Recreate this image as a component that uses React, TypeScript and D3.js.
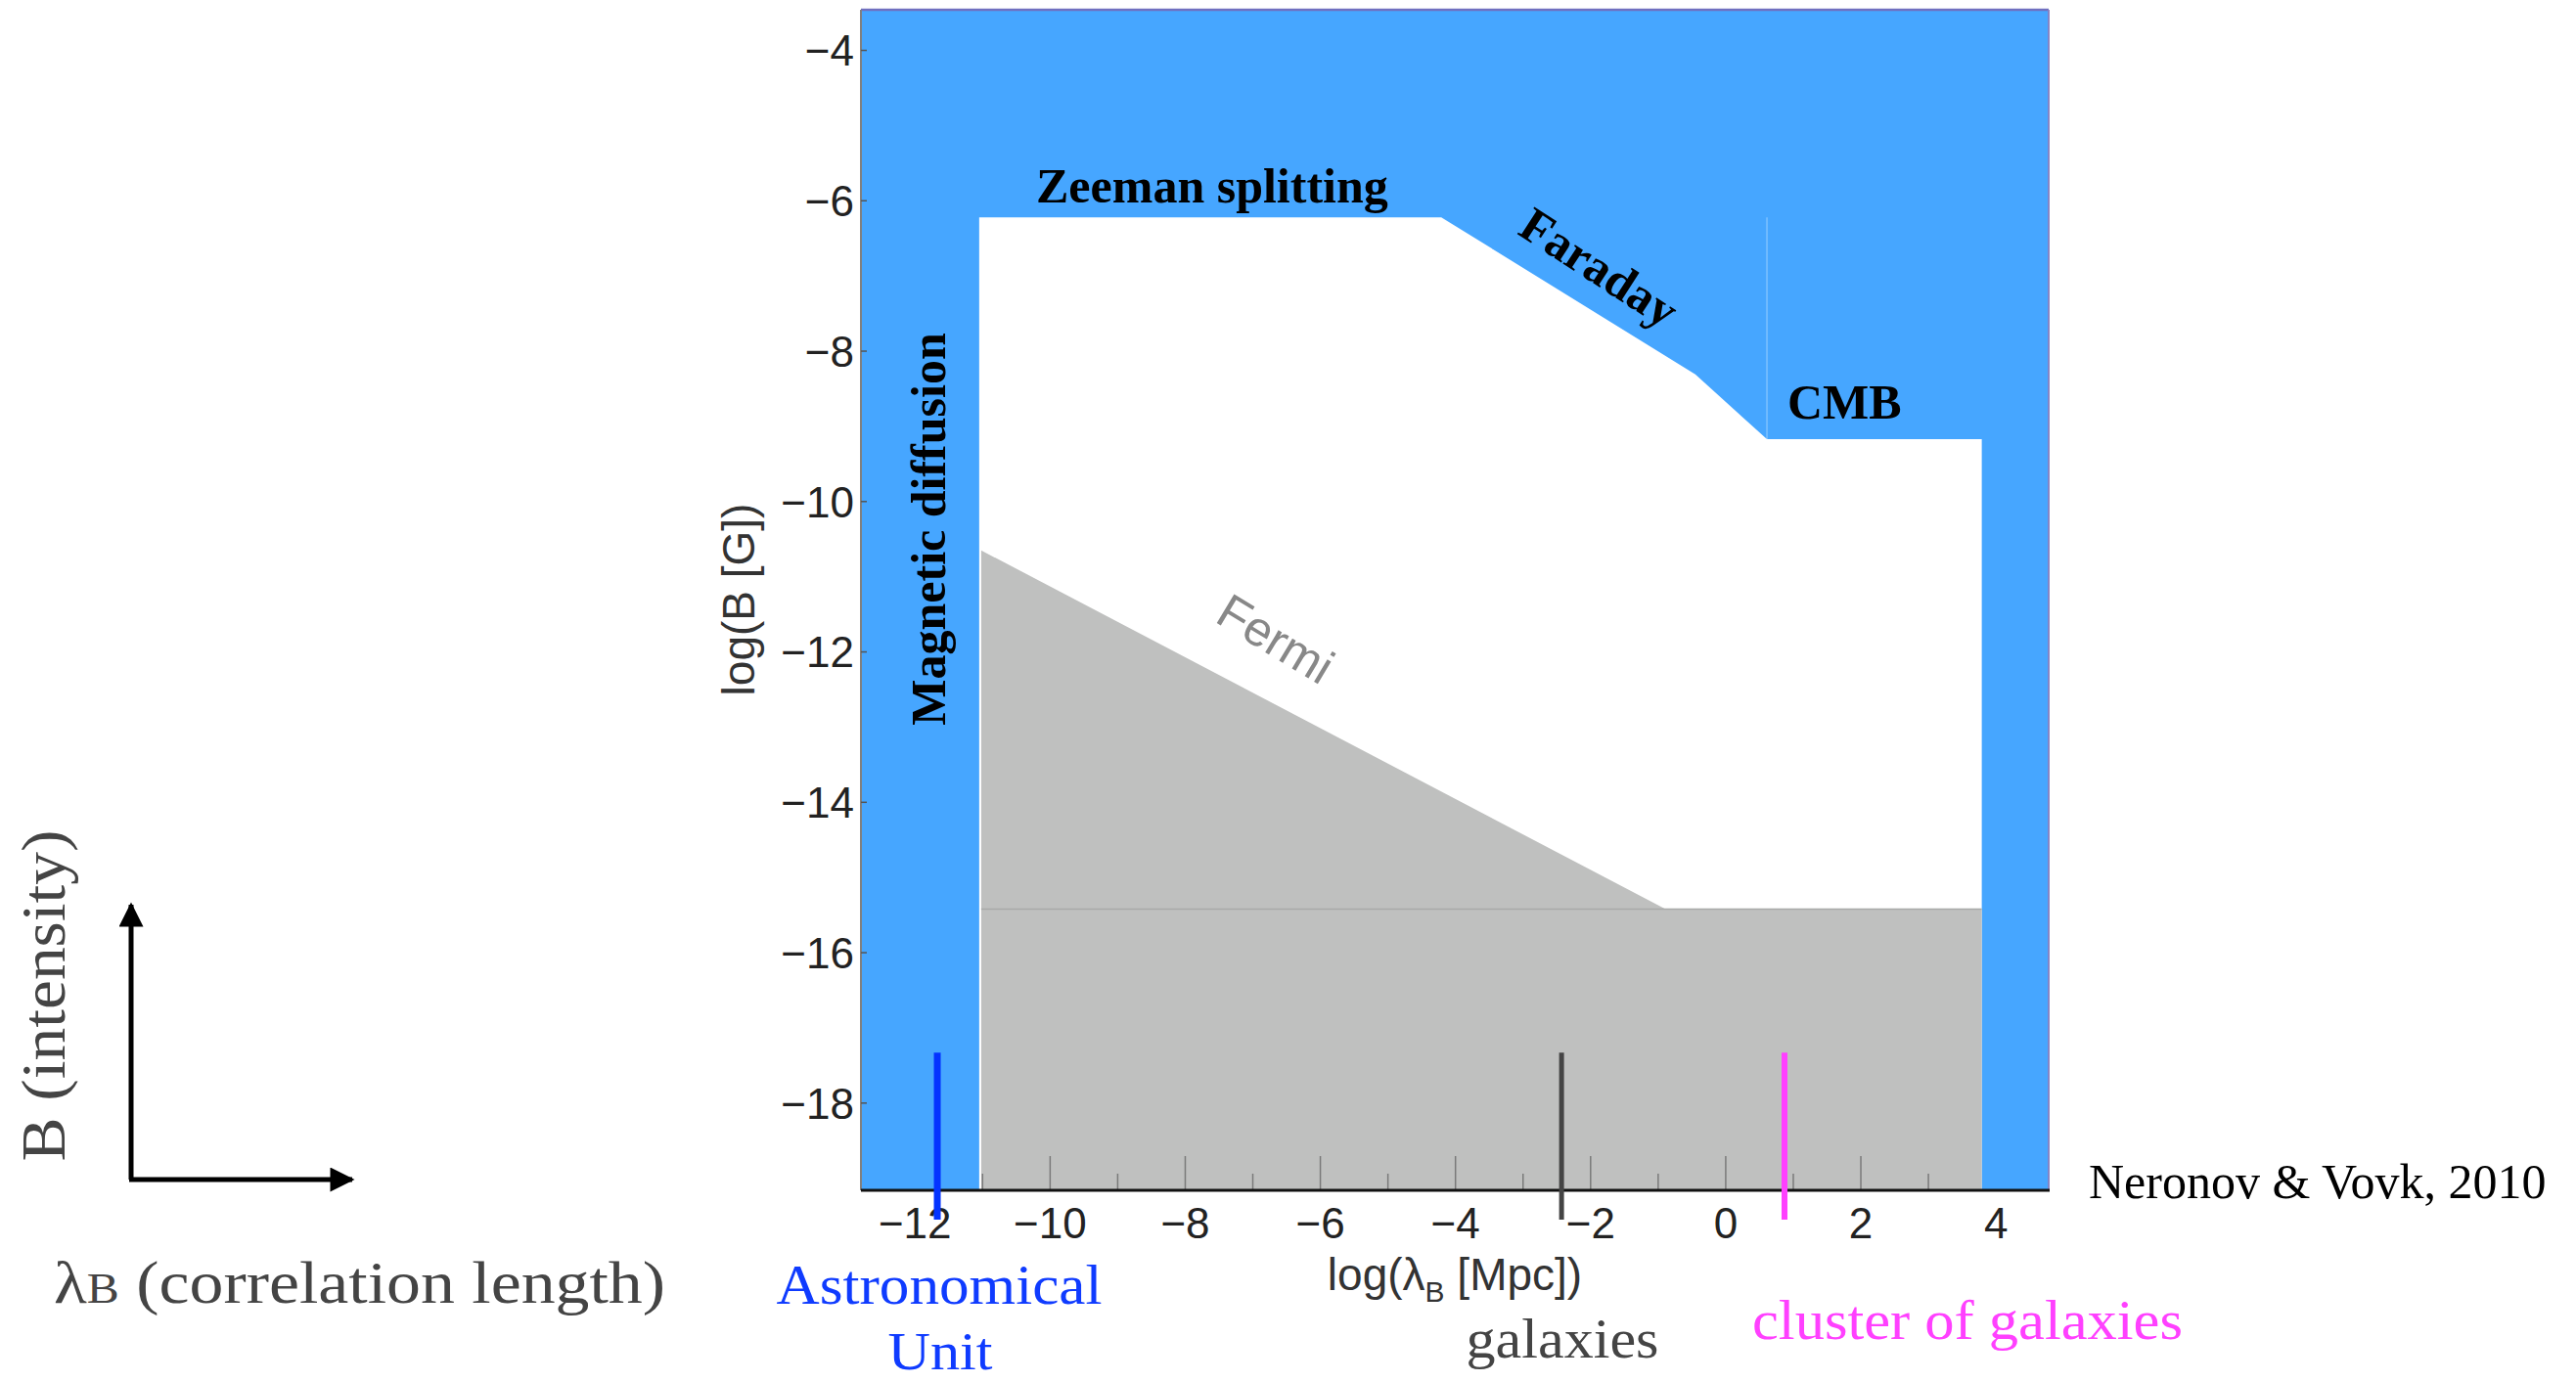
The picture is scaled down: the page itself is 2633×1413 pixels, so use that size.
import React from "react";
import * as d3 from "d3";

const width = 2633;
const height = 1413;

// axis ranges (log lambda [Mpc], log B [G])
const xDomain = [-12.8, 4.78];
const yDomain = [-3.46, -19.16];
const xTicks = [-12, -10, -8, -6, -4, -2, 0, 2, 4];
const yTicks = [-4, -6, -8, -10, -12, -14, -16, -18];
const minorX = [-11, -10, -9, -8, -7, -6, -5, -4, -3, -2, -1, 0, 1, 2, 3];

// allowed (white) region boundary
const allowedX = [-11.05, -11.05, -4.21, -0.45, 0.61, 3.79, 3.79];
const allowedY = [-19.16, -6.22, -6.22, -8.31, -9.17, -9.17, -19.16];

// Fermi exclusion (grey)
const fermiX = [-11.02, -11.02, -0.89, 3.79, 3.79];
const fermiY = [-19.16, -10.65, -15.42, -15.42, -19.16];
const fermiFloor = -15.42;

// scale markers
const markerX = [-11.67, -2.43, 0.87];
const markerColor = ["#0433ff", "#444444", "#ff40ff"];
const markerWidth = [7, 5, 6];
const markerTop = -17.33;
const markerBottom = -19.55;

const x = d3.scaleLinear().domain(xDomain).range([880, 2094]);
const y = d3.scaleLinear().domain(yDomain).range([10, 1217]);

const poly = d3
  .line<[number, number]>()
  .x((d) => x(d[0]))
  .y((d) => y(d[1]));

const allowedPath = poly(allowedX.map((v, i) => [v, allowedY[i]])) + "Z";
const fermiPath = poly(fermiX.map((v, i) => [v, fermiY[i]])) + "Z";

const sans = "'Liberation Sans', Arial, sans-serif";
const serif = "'Liberation Serif', 'Times New Roman', serif";
const blue = "#46a6ff";
const grey = "#bfc0bf";

const fmt = (v: number) => (v < 0 ? "\u2212" + Math.abs(v) : String(v));

export default function App() {
  const [x0, x1] = x.range();
  const [y0, y1] = y.range();
  return (
    <svg
      width={width}
      height={height}
      style={{ position: "absolute", left: 0, top: 0, background: "#fff" }}
    >
      {/* plot background: excluded regions */}
      <rect x={x0} y={y0} width={x1 - x0} height={y1 - y0} fill={blue} />
      <path d={allowedPath} fill="#ffffff" />
      <path d={fermiPath} fill={grey} />
      <line
        x1={x(fermiX[0])}
        x2={x(3.79)}
        y1={y(fermiFloor)}
        y2={y(fermiFloor)}
        stroke="#a8a9a8"
        strokeWidth={1.5}
      />
      {/* faint boundary above CMB */}
      <line
        x1={x(0.61)}
        x2={x(0.61)}
        y1={y(-6.22)}
        y2={y(-9.17)}
        stroke="#ffffff"
        strokeOpacity={0.3}
        strokeWidth={1.5}
      />

      {/* inner minor ticks along bottom */}
      {minorX.map((t) => (
        <line
          key={t}
          x1={x(t)}
          x2={x(t)}
          y1={y1}
          y2={y1 - (t % 2 === 0 ? 35 : 17)}
          stroke="#7a7a7a"
          strokeWidth={1.5}
        />
      ))}

      {/* frame */}
      <line x1={x0} x2={x1} y1={y0} y2={y0} stroke="#7070c0" strokeWidth={2.5} />
      <line x1={x1} x2={x1} y1={y0} y2={y1} stroke="#8585c5" strokeWidth={2} />
      <line x1={x0} x2={x0} y1={y0} y2={y1} stroke="#808080" strokeWidth={2} />
      <line x1={x0} x2={x1 + 1} y1={y1} y2={y1} stroke="#111" strokeWidth={3} />
      {yTicks.map((t) => (
        <line key={t} x1={x0} x2={x0 + 6} y1={y(t)} y2={y(t)} stroke="#555" strokeWidth={1.5} />
      ))}

      {/* tick labels */}
      {yTicks.map((t) => (
        <text
          key={t}
          x={873}
          y={y(t)}
          dy="0.36em"
          textAnchor="end"
          fontFamily={sans}
          fontSize={44}
          fill="#222"
        >
          {fmt(t)}
        </text>
      ))}
      {xTicks.map((t) => (
        <text
          key={t}
          x={x(t)}
          y={1266}
          textAnchor="middle"
          fontFamily={sans}
          fontSize={44}
          fill="#222"
        >
          {fmt(t)}
        </text>
      ))}

      {/* axis titles */}
      <text
        x={1487}
        y={1319}
        textAnchor="middle"
        fontFamily={sans}
        fontSize={46}
        fill="#333"
      >
        log(λ
        <tspan fontSize={30} dy={12}>
          B
        </tspan>
        <tspan dy={-12}> [Mpc])</tspan>
      </text>
      <text
        transform="translate(771,613) rotate(-90)"
        textAnchor="middle"
        fontFamily={sans}
        fontSize={46}
        fill="#333"
      >
        log(B [G])
      </text>

      {/* region labels */}
      <text x={1059} y={207} fontFamily={serif} fontWeight="bold" fontSize={50} fill="#000">
        Zeeman splitting
      </text>
      <text
        transform="translate(966,541) rotate(-90)"
        textAnchor="middle"
        fontFamily={serif}
        fontWeight="bold"
        fontSize={50}
        fill="#000"
      >
        Magnetic diffusion
      </text>
      <text
        transform="translate(1635,273) rotate(33)"
        textAnchor="middle"
        dy="0.35em"
        fontFamily={serif}
        fontWeight="bold"
        fontSize={50}
        fill="#000"
      >
        Faraday
      </text>
      <text x={1827} y={428} fontFamily={serif} fontWeight="bold" fontSize={50} fill="#000">
        CMB
      </text>
      <text
        transform="translate(1304,653) rotate(31)"
        textAnchor="middle"
        dy="0.35em"
        fontFamily={sans}
        fontSize={50}
        fill="#888"
      >
        Fermi
      </text>

      {/* scale markers */}
      {markerX.map((m, i) => (
        <line
          key={m}
          x1={x(m)}
          x2={x(m)}
          y1={y(markerTop)}
          y2={y(markerBottom)}
          stroke={markerColor[i]}
          strokeWidth={markerWidth[i]}
        />
      ))}
      <text x={960} y={1333} textAnchor="middle" fontFamily={serif} fontSize={57} fill="#0f3bff" textLength={333} lengthAdjust="spacingAndGlyphs">
        Astronomical
      </text>
      <text x={961} y={1400} textAnchor="middle" fontFamily={serif} fontSize={55} fill="#0f3bff" textLength={107} lengthAdjust="spacingAndGlyphs">
        Unit
      </text>
      <text x={1597} y={1388} textAnchor="middle" fontFamily={serif} fontSize={57} fill="#444" textLength={197} lengthAdjust="spacingAndGlyphs">
        galaxies
      </text>
      <text x={1791} y={1369} fontFamily={serif} fontSize={57} fill="#ff40ff" textLength={440} lengthAdjust="spacingAndGlyphs">
        cluster of galaxies
      </text>

      <text x={2135} y={1225} fontFamily={serif} fontSize={50} fill="#000">
        Neronov &amp; Vovk, 2010
      </text>

      {/* schematic axes on the left */}
      <defs>
        <marker id="arrow" viewBox="0 0 10 10" refX={9} refY={5} markerWidth={5.2} markerHeight={5} orient="auto" markerUnits="strokeWidth">
          <path d="M0,0 L10,5 L0,10 Z" fill="#000" />
        </marker>
      </defs>
      <line x1={134} x2={134} y1={1206} y2={925} stroke="#000" strokeWidth={5} markerEnd="url(#arrow)" />
      <line x1={132} x2={360} y1={1206} y2={1206} stroke="#000" strokeWidth={5} markerEnd="url(#arrow)" />
      <text
        transform="translate(66,1018) rotate(-90)"
        textAnchor="middle"
        fontFamily={serif}
        fontSize={64}
        fill="#444"
        textLength={339}
        lengthAdjust="spacingAndGlyphs"
      >
        B (intensity)
      </text>
      <text x={55} y={1332} fontFamily={serif} fontSize={62} fill="#444" textLength={625} lengthAdjust="spacingAndGlyphs">
        λ<tspan fontSize={44}>B</tspan> (correlation length)
      </text>
    </svg>
  );
}
